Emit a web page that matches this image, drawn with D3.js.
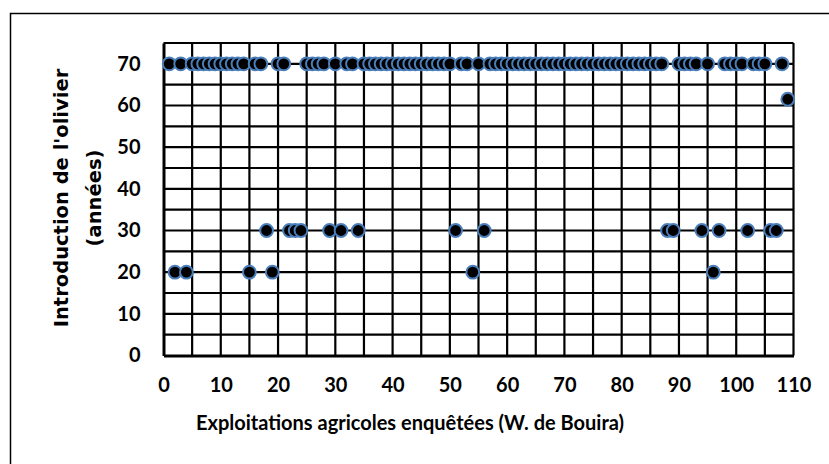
<!DOCTYPE html>
<html><head><meta charset="utf-8">
<script src="https://cdn.jsdelivr.net/npm/d3@7"></script>
<style>body{margin:0;background:#fff}svg{display:block}text{font-weight:700;fill:#000}</style>
</head><body>
<script>
// Exploitation index (1..109)
const farms = [1,2,3,4,5,6,7,8,9,10,11,12,13,14,15,16,17,18,19,20,21,22,23,24,25,26,27,28,29,30,31,32,33,34,35,36,37,38,39,40,41,42,43,44,45,46,47,48,49,50,51,52,53,54,55,56,57,58,59,60,61,62,63,64,65,66,67,68,69,70,71,72,73,74,75,76,77,78,79,80,81,82,83,84,85,86,87,88,89,90,91,92,93,94,95,96,97,98,99,100,101,102,103,104,105,106,107,108,109];
// Introduction de l'olivier (années)
const ages = [70,20,70,20,70,70,70,70,70,70,70,70,70,70,20,70,70,30,20,70,70,30,30,30,70,70,70,70,30,70,30,70,70,30,70,70,70,70,70,70,70,70,70,70,70,70,70,70,70,70,30,70,70,20,70,30,70,70,70,70,70,70,70,70,70,70,70,70,70,70,70,70,70,70,70,70,70,70,70,70,70,70,70,70,70,70,70,30,30,70,70,70,70,30,70,20,30,70,70,70,70,30,70,70,70,30,30,70,61.5];
const xTicks = [0,10,20,30,40,50,60,70,80,90,100,110];
const yTicks = [0,10,20,30,40,50,60,70];
const xGrid = [5,10,15,20,25,30,35,40,45,50,55,60,65,70,75,80,85,90,95,100,105,110];
const yGrid = [5,10,15,20,25,30,35,40,45,50,55,60,65,70,75];
const xTitle = "Exploitations agricoles enquêtées (W. de Bouira)";
const yTitle1 = "Introduction de l'olivier";
const yTitle2 = "(années)";

const W = 829, H = 464;
const svg = d3.select("body").append("svg").attr("width", W).attr("height", H);
svg.append("rect").attr("x",10.5).attr("y",13.5).attr("width",840).attr("height",470)
  .attr("fill","#fff").attr("stroke","#000").attr("stroke-width",1.5);

const x = d3.scaleLinear().domain([0,110]).range([163.5,793.5]);
const y = d3.scaleLinear().domain([0,75]).range([355.5,43]);

// grid
svg.append("g").selectAll("line").data(xGrid).join("line")
  .attr("x1",d=>x(d)).attr("x2",d=>x(d)).attr("y1",y(0)).attr("y2",y(75))
  .attr("stroke","#000").attr("stroke-width",2.2);
svg.append("g").selectAll("line").data(yGrid).join("line")
  .attr("x1",x(0)).attr("x2",x(110)).attr("y1",d=>y(d)).attr("y2",d=>y(d))
  .attr("stroke","#000").attr("stroke-width",2.2);

// axes
const xa = svg.append("g").attr("transform",`translate(0,${y(0)})`)
  .call(d3.axisBottom(x).tickValues(xTicks).tickSize(0).tickPadding(22));
xa.select(".domain").attr("stroke","#000").attr("stroke-width",3);
xa.selectAll("text").style("font-size","20px").style("font-family","Lato").style("font-weight","700");
const ya = svg.append("g").attr("transform",`translate(${x(0)},0)`)
  .call(d3.axisLeft(y).tickValues(yTicks).tickSize(0).tickPadding(23));
ya.select(".domain").attr("stroke","#000").attr("stroke-width",3);
ya.selectAll("text").style("font-size","20px").style("font-family","Lato").style("font-weight","700");

// points
svg.append("g").selectAll("circle").data(farms).join("circle")
  .attr("cx",(d)=>x(d)).attr("cy",(d,i)=>y(ages[i])).attr("r",6.4)
  .attr("fill","#000").attr("stroke","#4a7ebb").attr("stroke-width",2);

// titles
svg.append("text").attr("x",410).attr("y",430).attr("text-anchor","middle")
  .style("font-family","Lato").style("font-size","20px").text(xTitle);
svg.append("text").attr("transform","translate(68,198) rotate(-90)").attr("text-anchor","middle")
  .style("font-family","DejaVu Sans").style("font-size","19.5px").text(yTitle1);
svg.append("text").attr("transform","translate(101,198) rotate(-90)").attr("text-anchor","middle")
  .style("font-family","DejaVu Sans").style("font-size","19.5px").text(yTitle2);
</script>
</body></html>
